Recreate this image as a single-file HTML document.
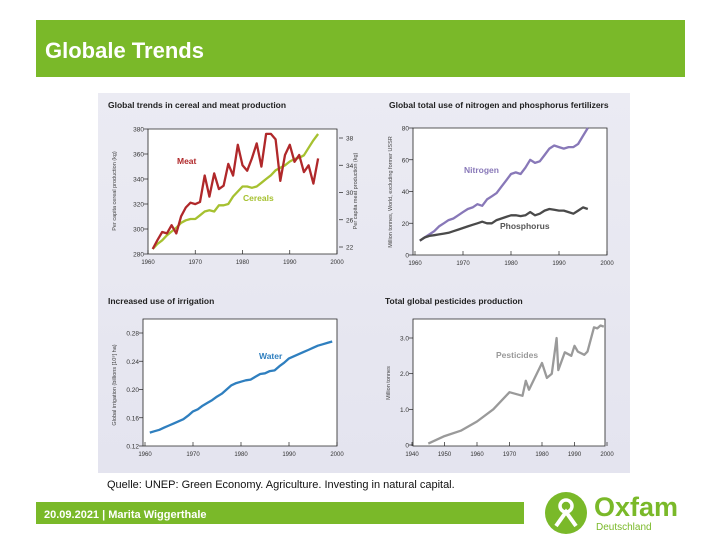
<!DOCTYPE html>
<html><head><meta charset="utf-8"><style>
body{margin:0;width:720px;height:540px;background:#fff;overflow:hidden;font-family:"Liberation Sans",sans-serif}
</style></head><body>
<svg id="s" width="720" height="540" viewBox="0 0 720 540" xmlns="http://www.w3.org/2000/svg" font-family="Liberation Sans, sans-serif">
<defs><linearGradient id="pg" x1="0" y1="0" x2="0" y2="1"><stop offset="0" stop-color="#ebebf3"/><stop offset="1" stop-color="#e4e4ef"/></linearGradient></defs>
<rect x="36" y="20" width="649" height="57" fill="#7ab929"/>
<text x="45" y="58" font-size="22" font-weight="bold" fill="#fff">Globale Trends</text>
<rect x="98" y="93" width="532" height="380" fill="url(#pg)"/>
<text x="107" y="488" font-size="11" fill="#111">Quelle: UNEP: Green Economy. Agriculture. Investing in natural capital.</text>
<rect x="36" y="502" width="488" height="22" fill="#7ab929"/>
<text x="44" y="518" font-size="11" font-weight="bold" fill="#fff">20.09.2021 | Marita Wiggerthale</text>
<g>
<circle cx="566" cy="513" r="21" fill="#7ab929"/>
<circle cx="566" cy="506" r="6" fill="none" stroke="#fff" stroke-width="3.5"/>
<path d="M556 526 L566 512 L576 526" fill="none" stroke="#fff" stroke-width="4"/>
<text x="594" y="516" font-size="27" font-weight="bold" fill="#7ab929">Oxfam</text>
<text x="596" y="530" font-size="10" fill="#7ab929">Deutschland</text>
</g>
<g id="charts"></g>
</svg>
<script>
// Chart 1: cereals & meat (years 1961-1996)
const c1Years=[1961,1962,1963,1964,1965,1966,1967,1968,1969,1970,1971,1972,1973,1974,1975,1976,1977,1978,1979,1980,1981,1982,1983,1984,1985,1986,1987,1988,1989,1990,1991,1992,1993,1994,1995,1996];
const cereals=[284,288,291,295,298,301,305,307,308,308,311,314,315,314,319,319,320,326,330,334,334,333,334,337,340,343,347,349,351,354,356,357,359,365,371,376];
const meat=[21.7,23.0,24.2,24.0,25.2,24.0,26.5,27.8,28.5,28.3,28.6,32.5,29.4,32.8,30.5,31.0,34.2,32.5,37.0,34.0,33.2,35.0,37.2,33.8,38.6,38.6,37.8,31.7,35.5,37.0,34.5,35.5,33.0,34.0,31.3,35.0];
const c1LeftTicks=[280,300,320,340,360,380];
const c1RightTicks=[22,26,30,34,38];
// Chart 2: fertilizers
const c2Years=c1Years;
const nitrogen=[9,11,13,15,18,20,22,23,25,27,29,30,32,31,35,37,39,43,47,51,52,51,55,60,58,59,63,67,69,68,67,68,68,70,75,80];
const phosphorus=[9,11,12,12.5,13,13.5,14,15,16,17,18,19,20,21,20,20,22,23,24,25,25,24.5,25,27,25,26,28,29,28.5,28,28,27,26,28,30,29];
const c2Ticks=[0,20,40,60,80];
// Chart 3: irrigation
const c3Years=[1961,1962,1963,1964,1965,1966,1967,1968,1969,1970,1971,1972,1973,1974,1975,1976,1977,1978,1979,1980,1981,1982,1983,1984,1985,1986,1987,1988,1989,1990,1991,1992,1993,1994,1995,1996,1997,1998,1999];
const water=[0.139,0.141,0.143,0.146,0.149,0.152,0.155,0.158,0.163,0.169,0.172,0.177,0.181,0.185,0.190,0.194,0.200,0.206,0.209,0.211,0.213,0.214,0.218,0.222,0.223,0.226,0.227,0.233,0.238,0.244,0.247,0.250,0.253,0.256,0.259,0.262,0.264,0.266,0.268];
const c3Ticks=[0.12,0.16,0.20,0.24,0.28];
const c3TickLabels=["0.12","0.16","0.20","0.24","0.28"];
// Chart 4: pesticides
const c4Years=[1945,1950,1955,1960,1965,1970,1974,1975,1976,1980,1981.5,1983,1984.5,1985,1987,1989,1990,1991,1993,1994,1996,1997,1998,1999];
const pesticides=[0.04,0.25,0.4,0.66,1.0,1.48,1.38,1.8,1.55,2.3,1.88,2.0,3.0,2.1,2.6,2.5,2.78,2.62,2.53,2.62,3.3,3.27,3.35,3.32];
const c4Ticks=[0,1,2,3];
const c4TickLabels=["0","1.0","2.0","3.0"];
const xTicks6=[1960,1970,1980,1990,2000];
const xTicks4=[1940,1950,1960,1970,1980,1990,2000];

const NS='http://www.w3.org/2000/svg';
const root=document.getElementById('charts');
function mk(tag,attrs,parent,txt){const e=document.createElementNS(NS,tag);for(const k in attrs)e.setAttribute(k,attrs[k]);if(txt!==undefined)e.textContent=txt;(parent||root).appendChild(e);return e;}
function lin(d0,d1,r0,r1){return v=>r0+(v-d0)*(r1-r0)/(d1-d0);}
function frame(g,x0,y0,x1,y1,hasRight){
  mk('rect',{x:x0,y:y0,width:x1-x0,height:y1-y0,fill:'#fff'},g);
  mk('path',{d:`M${x0} ${y0}L${x1} ${y0}L${x1} ${y1}L${x0} ${y1}Z`,fill:'none',stroke:'#222','stroke-width':0.8},g);
}
function series(g,xs,ys,X,Y,color,name){
  const p=mk('polyline',{points:xs.map((x,i)=>X(x).toFixed(1)+','+Y(ys[i]).toFixed(1)).join(' '),fill:'none',stroke:color,'stroke-width':2.3,'stroke-linejoin':'round'},g);
  
  
}
function xAxis(g,ticks,X,y1){
  ticks.forEach(t=>{mk('line',{x1:X(t),x2:X(t),y1:y1,y2:y1-4,stroke:'#222','stroke-width':0.7},g);
    const tx=mk('text',{x:X(t),y:y1+10,'font-size':6,'text-anchor':'middle',fill:'#333'},g,String(t));
    
    });
}
function yAxis(g,ticks,labels,Y,x0,side){
  ticks.forEach((t,i)=>{const y=Y(t);
    mk('line',{x1:x0,x2:x0+(side<0?4:-4)*-1,y1:y,y2:y,stroke:'#222','stroke-width':0.7},g);
    const tx=mk('text',{x:side<0?x0-4:x0+6,y:y+2.5,'font-size':6.5,'text-anchor':side<0?'end':'start',fill:'#333'},g,labels[i]);
    
    });
}
function title(g,x,y,t){const e=mk('text',{x:x,y:y,'font-size':8.5,'font-weight':'bold',fill:'#222'},g,t);}
function ytitle(g,x,y,t){const e=mk('text',{x:0,y:0,'font-size':5.5,fill:'#444','text-anchor':'middle',transform:`translate(${x},${y}) rotate(-90)`},g,t);}
function label(g,x,y,t,c){const e=mk('text',{x:x,y:y,'font-size':8.5,'font-weight':'bold',fill:c},g,t);}

// Chart 1
let g=mk('g',{});
title(g,108,108,'Global trends in cereal and meat production');
frame(g,148,129,337,254);
let X=lin(1960,2000,148,337),YL=lin(280,380,254,129),YR=lin(22,38,247,138);
xAxis(g,xTicks6,X,254);
yAxis(g,c1LeftTicks,c1LeftTicks.map(String),YL,148,-1);
c1RightTicks.forEach(t=>{mk('line',{x1:339,x2:343,y1:YR(t),y2:YR(t),stroke:'#222','stroke-width':0.7},g);mk('text',{x:346,y:YR(t)+2.5,'font-size':6.5,fill:'#333'},g,String(t));});
ytitle(g,116,191,'Per capita cereal production (kg)');ytitle(g,357,191,'Per capita meat production (kg)');
series(g,c1Years,cereals,X,YL,'#a6c130','cereals-line');
series(g,c1Years,meat,X,YR,'#b0282a','meat-line');
label(g,177,164,'Meat','#b0282a');label(g,243,201,'Cereals','#a6c130');

// Chart 2
g=mk('g',{});
title(g,389,108,'Global total use of nitrogen and phosphorus fertilizers');
frame(g,413,128,607,255);
X=lin(1960,2000,415,607);let Y=lin(0,80,255,128);
xAxis(g,xTicks6,X,255);yAxis(g,c2Ticks,c2Ticks.map(String),Y,413,-1);
ytitle(g,392,192,'Million tonnes, World, excluding former USSR');
series(g,c2Years,nitrogen,X,Y,'#8878b8','nitrogen-line');
series(g,c2Years,phosphorus,X,Y,'#4a4a4a','phosphorus-line');
label(g,464,173,'Nitrogen','#8878b8');label(g,500,229,'Phosphorus','#555');

// Chart 3
g=mk('g',{});
title(g,108,304,'Increased use of irrigation');
frame(g,143,319,337,446);
X=lin(1960,2000,145,337);Y=lin(0.12,0.28,446,333);
xAxis(g,xTicks6,X,446);yAxis(g,c3Ticks,c3TickLabels,Y,143,-1);
ytitle(g,116,385,'Global irrigation (billions [10⁹] ha)');
series(g,c3Years,water,X,Y,'#2f7fbf','water-line');
label(g,259,359,'Water','#2f7fbf');

// Chart 4
g=mk('g',{});
title(g,385,304,'Total global pesticides production');
frame(g,413,319,605,446);
X=lin(1940,2000,412,607);Y=lin(0,3,445,338);
xAxis(g,xTicks4,X,446);yAxis(g,c4Ticks,c4TickLabels,Y,413,-1);
ytitle(g,390,383,'Million tonnes');
series(g,c4Years,pesticides,X,Y,'#9a9a9a','pesticides-line');
label(g,496,358,'Pesticides','#999');
</script>
</body></html>
